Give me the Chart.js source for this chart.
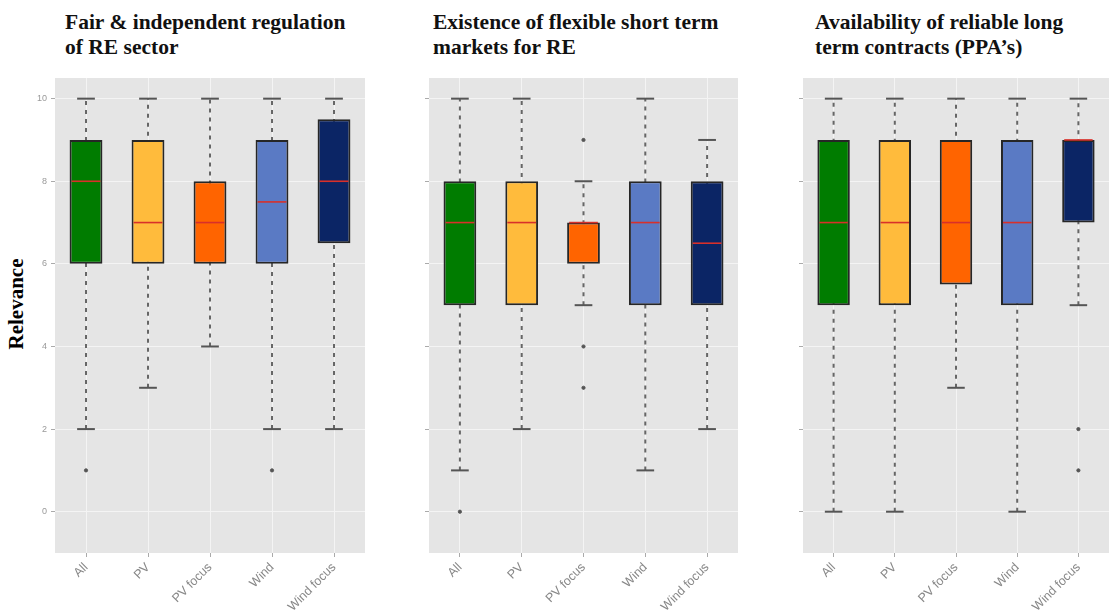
<!DOCTYPE html>
<html>
<head>
<meta charset="utf-8">
<script src="https://cdn.jsdelivr.net/npm/chart.js@4/dist/chart.umd.min.js"></script>
<style>
  body { margin: 0; background: #fff; width: 1114px; height: 610px; overflow: hidden; position: relative; }
  .panel { position: absolute; top: 0; height: 610px; }
  .title { position: absolute; font-family: "Liberation Serif", serif; font-weight: bold; font-size: 21.5px; line-height: 25px; color: #111; white-space: nowrap; }
  #ylab { position: absolute; left: 4px; top: 304px; font-family: "Liberation Serif", serif; font-weight: bold; font-size: 21px; transform: translate(-50%, -50%) rotate(-90deg); transform-origin: center; margin-left: 12px; }
</style>
</head>
<body>
<div class="title" style="left:65px; top:10px">Fair &amp; independent regulation<br>of RE sector</div>
<div class="title" style="left:433px; top:10px">Existence of flexible short term<br>markets for RE</div>
<div class="title" style="left:815px; top:10px">Availability of reliable long<br>term contracts (PPA’s)</div>
<div id="ylab">Relevance</div>

<div class="panel" style="left:20px; width:350px"><canvas id="c1"></canvas></div>
<div class="panel" style="left:400px; width:343px"><canvas id="c2"></canvas></div>
<div class="panel" style="left:774px; width:340px"><canvas id="c3"></canvas></div>

<script>
const groups = ["All", "PV", "PV focus", "Wind", "Wind focus"];
const colors = ["#007c00", "#ffbb3c", "#ff6400", "#5a7ac4", "#0b2565"];
const yTicks = [0, 2, 4, 6, 8, 10];

// panel 1: Fair & independent regulation
const p1Low    = [2, 3, 4, 2, 2];
const p1Q1     = [6, 6, 6, 6, 6.5];
const p1Median = [8, 7, 7, 7.5, 8];
const p1Q3     = [9, 9, 8, 9, 9.5];
const p1High   = [10, 10, 10, 10, 10];
const p1Out    = [[1], [], [], [1], []];

// panel 2: flexible short term markets
const p2Low    = [1, 2, 5, 1, 2];
const p2Q1     = [5, 5, 6, 5, 5];
const p2Median = [7, 7, 7, 7, 6.5];
const p2Q3     = [8, 8, 7, 8, 8];
const p2High   = [10, 10, 8, 10, 9];
const p2Out    = [[0], [], [9, 4, 3], [], []];

// panel 3: long term contracts
const p3Low    = [0, 0, 3, 0, 5];
const p3Q1     = [5, 5, 5.5, 5, 7];
const p3Median = [7, 7, 7, 7, 9];
const p3Q3     = [9, 9, 9, 9, 9];
const p3High   = [10, 10, 10, 10, 10];
const p3Out    = [[], [], [], [], [2, 1]];

const boxPlugin = {
  id: "boxParts",
  beforeDraw(chart) {
    const a = chart.chartArea, ctx = chart.ctx;
    ctx.save();
    ctx.fillStyle = "#e5e5e5";
    ctx.fillRect(a.left, a.top, a.right - a.left, a.bottom - a.top);
    ctx.restore();
  },
  beforeDatasetsDraw(chart) {
    const st = chart.config.options.plugins.boxParts;
    const x = chart.scales.x, y = chart.scales.y, ctx = chart.ctx;
    const bars = chart.getDatasetMeta(0).data;
    ctx.save();
    groups.forEach((g, i) => {
      const cx = x.getPixelForValue(i);
      const capW = bars[i].width * 0.27;
      ctx.strokeStyle = "#666";
      ctx.lineWidth = 2;
      ctx.setLineDash([4, 5]);
      ctx.beginPath();
      ctx.moveTo(cx, y.getPixelForValue(st.low[i]));
      ctx.lineTo(cx, y.getPixelForValue(st.high[i]));
      ctx.stroke();
      ctx.setLineDash([]);
      ctx.strokeStyle = "#555";
      [st.low[i], st.high[i]].forEach(v => {
        const py = y.getPixelForValue(v);
        ctx.beginPath();
        ctx.moveTo(cx - capW, py);
        ctx.lineTo(cx + capW, py);
        ctx.stroke();
      });
    });
    ctx.restore();
  },
  afterDatasetsDraw(chart) {
    const st = chart.config.options.plugins.boxParts;
    const y = chart.scales.y, ctx = chart.ctx;
    const bars = chart.getDatasetMeta(0).data;
    ctx.save();
    ctx.strokeStyle = "#d8302a";
    ctx.lineWidth = 1.6;
    groups.forEach((g, i) => {
      const b = bars[i];
      const py = y.getPixelForValue(st.median[i]);
      ctx.beginPath();
      ctx.moveTo(b.x - b.width / 2 + 2, py);
      ctx.lineTo(b.x + b.width / 2 - 2, py);
      ctx.stroke();
    });
    ctx.restore();
  }
};

function makePanel(id, q1, median, q3, low, high, outliers, yWidth, showLabels) {
  const outPts = [];
  outliers.forEach((arr, i) => arr.forEach(v => outPts.push({ x: groups[i], y: v })));
  return new Chart(document.getElementById(id), {
    type: "bar",
    data: {
      labels: groups,
      datasets: [{
        data: q1.map((v, i) => [v, q3[i]]),
        backgroundColor: colors,
        borderColor: "#262626",
        borderWidth: 2,
        borderSkipped: false,
        barPercentage: 0.53,
        categoryPercentage: 1
      }, {
        type: "line",
        data: outPts,
        showLine: false,
        pointRadius: 1.6,
        pointBackgroundColor: "#555",
        pointBorderColor: "#555"
      }]
    },
    options: {
      responsive: true,
      maintainAspectRatio: false,
      animation: false,
      layout: { padding: { top: 78, right: 4, left: 0, bottom: 0 } },
      plugins: {
        legend: { display: false },
        tooltip: { enabled: false },
        boxParts: { low, high, median }
      },
      scales: {
        x: {
          offset: true,
          grid: { offset: false, color: "#f4f4f4", lineWidth: 1, tickColor: "#aaa", tickLength: 4 },
          border: { display: false },
          ticks: { color: "#888", font: { family: "Liberation Sans", size: 12.5 }, minRotation: 45, maxRotation: 45, padding: 3 },
          afterFit(s) { s.height = 57; }
        },
        y: {
          min: -1,
          max: 10.5,
          grid: { color: "#f4f4f4", lineWidth: 1, tickColor: "#aaa", tickLength: 4 },
          border: { display: false },
          ticks: {
            color: "#999",
            font: { family: "Liberation Sans", size: 9 },
            padding: 4,
            callback: v => showLabels ? String(v) : ""
          },
          afterBuildTicks(s) { s.ticks = yTicks.map(v => ({ value: v })); },
          afterFit(s) { s.width = yWidth; }
        }
      }
    },
    plugins: [boxPlugin]
  });
}

makePanel("c1", p1Q1, p1Median, p1Q3, p1Low, p1High, p1Out, 35, true);
makePanel("c2", p2Q1, p2Median, p2Q3, p2Low, p2High, p2Out, 29, false);
makePanel("c3", p3Q1, p3Median, p3Q3, p3Low, p3High, p3Out, 29, false);
</script>
</body>
</html>
